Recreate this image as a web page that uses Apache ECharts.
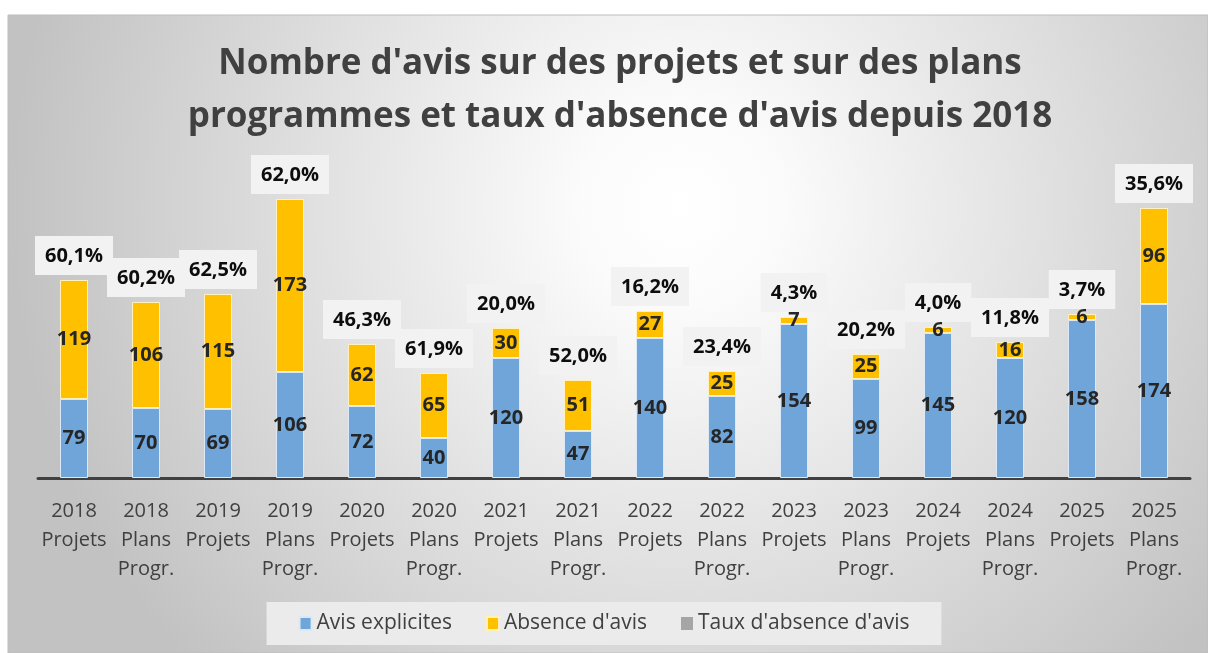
<!DOCTYPE html>
<html>
<head>
<meta charset="utf-8">
<script src="https://cdn.jsdelivr.net/npm/echarts@6/dist/echarts.min.js"></script>
<style>
  html, body { margin: 0; padding: 0; background: #ffffff; }
  #chart { width: 1208px; height: 653px; }
</style>
</head>
<body>
<div id="chart"></div>
<script>
  // categories
  var categories = [
    '2018\nProjets', '2018\nPlans\nProgr.', '2019\nProjets', '2019\nPlans\nProgr.',
    '2020\nProjets', '2020\nPlans\nProgr.', '2021\nProjets', '2021\nPlans\nProgr.',
    '2022\nProjets', '2022\nPlans\nProgr.', '2023\nProjets', '2023\nPlans\nProgr.',
    '2024\nProjets', '2024\nPlans\nProgr.', '2025\nProjets', '2025\nPlans\nProgr.'
  ]
  var avisExplicites = [79, 70, 69, 106, 72, 40, 120, 47, 140, 82, 154, 99, 145, 120, 158, 174]
  var absenceAvis = [119, 106, 115, 173, 62, 65, 30, 51, 27, 25, 7, 25, 6, 16, 6, 96]
  var tauxAbsence = ['60,1%', '60,2%', '62,5%', '62,0%', '46,3%', '61,9%', '20,0%', '52,0%',
    '16,2%', '23,4%', '4,3%', '20,2%', '4,0%', '11,8%', '3,7%', '35,6%']

  var totals = avisExplicites.map(function (v, i) {
    return v + absenceAvis[i]
  })

  var chart = echarts.init(document.getElementById('chart'))

  var insideLabel = {
    show: true,
    position: 'inside',
    color: '#262626',
    fontFamily: 'Open Sans',
    fontWeight: 'bold',
    fontSize: 20
  }

  chart.setOption({
    animation: false,
    textStyle: { fontFamily: 'Open Sans' },
    graphic: [
      {
        type: 'rect',
        z: -10,
        shape: { x: 8, y: 15, width: 1200, height: 638 },
        style: {
          fill: new echarts.graphic.RadialGradient(0.56, 0.3, 1.05, [
            { offset: 0, color: '#ffffff' },
            { offset: 0.15, color: '#fbfbfb' },
            { offset: 1, color: '#c2c2c2' }
          ]),
          stroke: '#bdbdbd',
          lineWidth: 1
        }
      }
    ],
    title: {
      text: "Nombre d'avis sur des projets et sur des plans\nprogrammes et taux d'absence d'avis depuis 2018",
      left: 615,
      top: 33,
      textAlign: 'center',
      textStyle: {
        fontFamily: 'Open Sans',
        fontWeight: 'bold',
        fontSize: 35,
        lineHeight: 53,
        color: '#404040'
      }
    },
    legend: {
      bottom: 8,
      left: 'center',
      icon: 'rect',
      itemWidth: 12,
      itemHeight: 13,
      itemGap: 34,
      padding: [11, 32],
      backgroundColor: '#ebebeb',
      textStyle: { fontSize: 21, color: '#404040', fontFamily: 'Open Sans' },
      data: ['Avis explicites', "Absence d'avis", "Taux d'absence d'avis"]
    },
    grid: {
      left: 38,
      right: 18,
      top: 178,
      bottom: 175
    },
    xAxis: {
      type: 'category',
      data: categories,
      axisLine: { lineStyle: { color: '#404040', width: 3 } },
      axisTick: { show: false },
      axisLabel: {
        interval: 0,
        margin: 19,
        fontSize: 20,
        lineHeight: 29,
        color: '#404040',
        fontFamily: 'Open Sans'
      }
    },
    yAxis: {
      type: 'value',
      min: 0,
      max: 300,
      show: false
    },
    series: [
      {
        name: 'Avis explicites',
        type: 'bar',
        stack: 'total',
        barWidth: 28,
        data: avisExplicites,
        itemStyle: { color: '#6fa5d8', borderColor: '#dce9f5', borderWidth: 1 },
        label: insideLabel
      },
      {
        name: "Absence d'avis",
        type: 'bar',
        stack: 'total',
        barWidth: 28,
        data: absenceAvis,
        itemStyle: { color: '#ffc000', borderColor: '#fff0c0', borderWidth: 1 },
        label: insideLabel
      },
      {
        name: "Taux d'absence d'avis",
        type: 'line',
        data: totals,
        symbol: 'circle',
        symbolSize: 0,
        lineStyle: { opacity: 0, width: 0 },
        itemStyle: { color: '#a5a5a5' },
        label: {
          show: true,
          position: 'top',
          distance: 5,
          formatter: function (p) {
            return tauxAbsence[p.dataIndex]
          },
          backgroundColor: '#f2f2f2',
          padding: [10, 10, 9, 10],
          lineHeight: 20,
          color: '#0d0d0d',
          fontFamily: 'Open Sans',
          fontWeight: 'bold',
          fontSize: 20
        }
      }
    ]
  })
</script>
</body>
</html>
